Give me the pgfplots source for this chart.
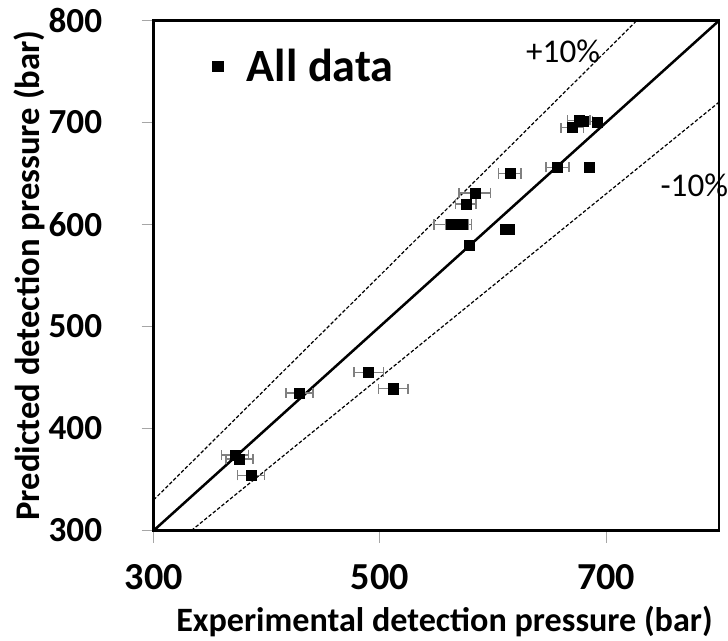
\documentclass[border=0pt]{standalone}
\usepackage{pgfplots}
\pgfplotsset{compat=1.18}
\usepackage{fontspec}
\setmainfont{Carlito}
\begin{document}
\begin{tikzpicture}
\begin{axis}[
  scale only axis,
  width=561bp, height=506bp,
  xmin=300, xmax=800, ymin=300, ymax=800,
  xtick={300,500,700},
  ytick={300,400,500,600,700,800},
  xtick pos=bottom, ytick pos=left,
  axis line style={black, line width=2.5bp},
  tick align=outside,
  major tick length=12bp,
  tick style={gray!70, line width=1bp},
  /pgf/number format/assume math mode=true,
  xticklabel style={font=\fontsize{38}{40}\selectfont\bfseries, inner sep=0pt, anchor=north, yshift=-21bp},
  yticklabel style={font=\fontsize{35}{38}\selectfont\bfseries, inner sep=0pt, anchor=east, xshift=-39bp},
  xlabel={Experimental detection pressure (bar)},
  ylabel={Predicted detection pressure (bar)},
  every axis x label/.style={at={(axis description cs:0.5,0)}, anchor=base, yshift=-100bp, xshift=8bp, inner xsep=0pt, inner ysep=4bp, font=\fontsize{34}{36}\selectfont\bfseries},
  every axis y label/.style={at={(axis description cs:0,0.5)}, rotate=90, anchor=center, yshift=123bp, inner xsep=30bp, inner ysep=14bp, font=\fontsize{34.5}{36}\selectfont\bfseries},
  legend style={at={(axis description cs:0.104,0.91)}, anchor=west, draw=none, fill=none, inner sep=0pt, font=\fontsize{46}{48}\selectfont\bfseries,
    /tikz/every odd column/.append style={column sep=22bp}},
  legend cell align=left,
  clip mode=individual,
]
\addlegendimage{only marks, mark=square*, mark size=5bp, black}
\addlegendentry{All data}
% reference lines
\addplot[black, line width=2.5bp, forget plot] coordinates {(300,300) (800,800)};
\addplot[black, line width=1.2bp, dash pattern=on 3.5bp off 2bp, forget plot] coordinates {(300,330) (727.27,800)};
\addplot[black, line width=1.2bp, dash pattern=on 3.5bp off 2bp, forget plot] coordinates {(333.33,300) (800,720)};
% data
\addplot[only marks, mark=square*, mark size=5bp, black, forget plot,
  error bars/.cd, x dir=both, x explicit,
  error bar style={gray, line width=1.5bp},
  error mark options={rotate=90, mark size=5bp, gray, line width=1.5bp}]
  table[x=x, y=y, x error=ex] {
x y ex
372 374 12
376 370 12
386 354 12
429 435 12
490 455 13
512 439 13
563 600 15
568 600 10
573 600 8
576 620 9
579 580 3
584 631 14
611 595 3
614 595 3
615 650 10
657 656 10
685 656 2
670 695 10
676 702 10
680 701 8
692 700 4
};
\node[font=\fontsize{33}{35}\selectfont, anchor=center, inner sep=0pt] at (axis cs:662,770) {+10\%};
\node[font=\fontsize{33}{35}\selectfont, anchor=center, inner sep=0pt] at (axis cs:778,638) {-10\%};
\end{axis}
\end{tikzpicture}
\end{document}
